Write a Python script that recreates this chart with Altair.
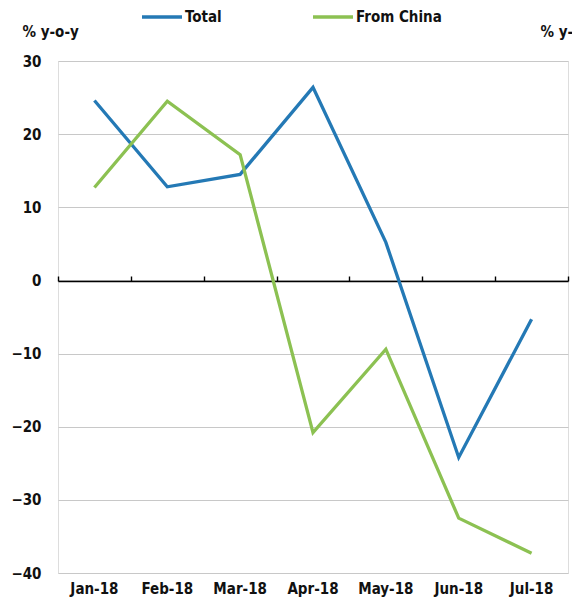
import altair as alt
import pandas as pd

# Monthly import growth, % year on year
months = ["Jan-18", "Feb-18", "Mar-18", "Apr-18", "May-18", "Jun-18", "Jul-18"]
total = [24.6, 12.8, 14.5, 26.4, 5.2, -24.2, -5.3]
from_china = [12.7, 24.5, 17.2, -20.8, -9.4, -32.5, -37.3]
series_names = ["Total", "From China"]
series_colors = ["#2479b5", "#8cc152"]
y_ticks = [30, 20, 10, 0, -10, -20, -30, -40]

df = pd.DataFrame({
    "month": months * 2,
    "step": list(range(len(months))) * 2,
    "value": total + from_china,
    "series": [series_names[0]] * len(months) + [series_names[1]] * len(months),
})

FONT = "'DejaVu Sans Condensed', 'Liberation Sans Narrow', 'Roboto Condensed', 'Open Sans', sans-serif"
FS = 15

x_scale = alt.Scale(type="band", domain=months, paddingInner=0, paddingOuter=0)
y_scale = alt.Scale(domain=[-40, 30], nice=False, zero=False)

color = alt.Color(
    "series:N",
    scale=alt.Scale(domain=series_names, range=series_colors),
    legend=alt.Legend(
        orient="none", legendX=82, legendY=-66, direction="horizontal",
        title=None, symbolType="stroke", symbolSize=1600, symbolStrokeWidth=3.5,
        labelFont=FONT, labelFontSize=FS, labelFontWeight="bold", labelColor="#111",
        labelOffset=1, columnPadding=84,
    ),
)

lines = alt.Chart(df).mark_line(strokeWidth=3.3).encode(
    x=alt.X("month:N", scale=x_scale, title=None, axis=alt.Axis(
        orient="bottom", domain=False, ticks=False, grid=False, labelAngle=0,
        labelFont=FONT, labelFontSize=FS, labelFontWeight="bold", labelColor="#111",
        labelPadding=8,
    )),
    y=alt.Y("value:Q", scale=y_scale, axis=alt.Axis(
        orient="left", values=y_ticks, domain=False, ticks=False, grid=True,
        gridColor="#c8c8c8", gridWidth=1.2,
        labelFont=FONT, labelFontSize=FS, labelFontWeight="bold", labelColor="#111",
        labelPadding=17, title="% y-o-y", titleAngle=0, titleAlign="left",
        titleBaseline="alphabetic", titleX=-36, titleY=-25, titleFont=FONT,
        titleFontSize=FS, titleFontWeight="bold", titleColor="#111",
    )),
    color=color,
    order=alt.Order("step:Q"),
)

# Zero line with category boundary ticks, plus the right-hand unit label
zero_axis = alt.Chart(df).mark_line(opacity=0).encode(
    x=alt.X("month:N", scale=x_scale, title=None, axis=alt.Axis(
        orient="top", offset=-220, labels=False, grid=False, tickBand="extent",
        domainColor="#000", domainWidth=1.6, tickColor="#000", tickWidth=1.4,
        tickSize=5,
    )),
    y=alt.Y("value:Q", scale=y_scale, axis=alt.Axis(
        orient="right", labels=False, ticks=False, domain=False, grid=False,
        title="% y-o-y", titleAngle=0, titleAlign="left", titleBaseline="alphabetic",
        titleX=-28, titleY=-25, titleFont=FONT, titleFontSize=FS,
        titleFontWeight="bold", titleColor="#111",
    )),
    detail="series:N",
    order=alt.Order("step:Q"),
)

chart = alt.layer(lines, zero_axis).resolve_axis(x="independent", y="independent").properties(
    width=510, height=512,
    autosize=alt.AutoSizeParams(type="none"),
    padding={"left": 58, "top": 61, "right": 4, "bottom": 31},
).configure_view(stroke=None).configure(background="white")

chart.save("out.html", embed_options={"renderer": "svg", "actions": False})
